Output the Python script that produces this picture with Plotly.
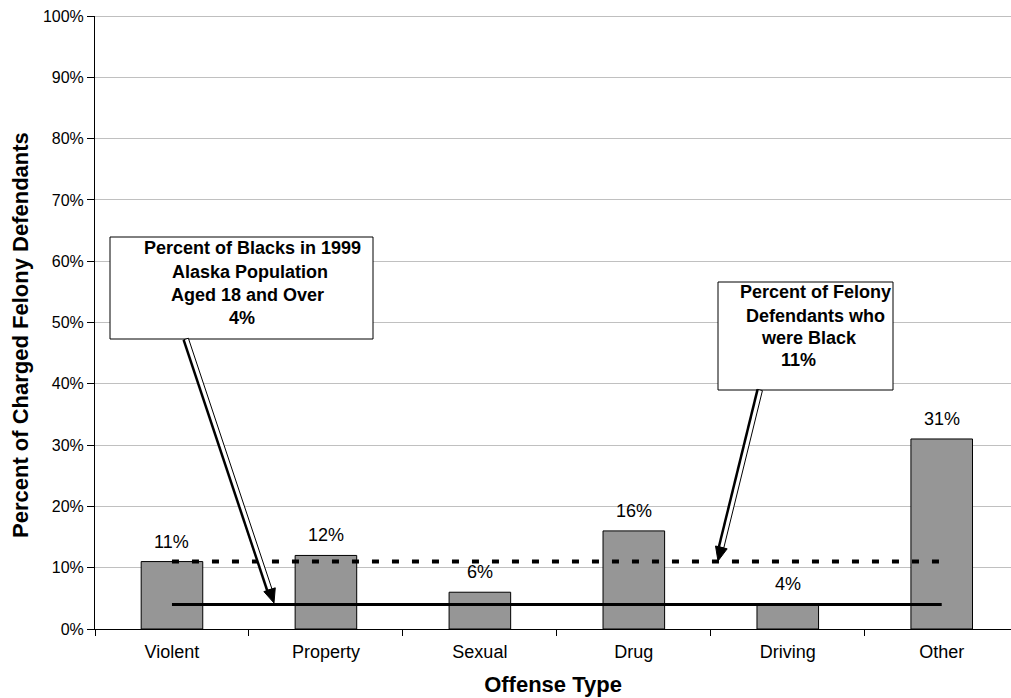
import math
import plotly.graph_objects as go

# Share of charged felony defendants who were Black, by offense type
categories = ["Violent", "Property", "Sexual", "Drug", "Driving", "Other"]
pct_black = [11, 12, 6, 16, 4, 31]

# Reference levels
adult_population_share = 4     # Blacks in 1999 Alaska population aged 18+
all_felony_share = 11          # Black share of all felony defendants

y_ticks = list(range(0, 101, 10))

W, H = 1011, 698
M_L, M_R, M_T, M_B = 95, 0, 16, 69
PW, PH = W - M_L - M_R, H - M_T - M_B
FONT = "Liberation Sans, Arial, sans-serif"


def px(xp):
    """Pixel column -> paper x."""
    return (xp - M_L) / PW


def py(yp):
    """Pixel row -> paper y."""
    return (H - M_B - yp) / PH


fig = go.Figure()

fig.add_trace(go.Bar(
    x=categories, y=pct_black, width=0.4,
    marker=dict(color="#969696", line=dict(color="#000000", width=1)),
    hoverinfo="skip", showlegend=False,
))

# Reference lines across the categories
fig.add_trace(go.Scatter(
    x=categories, y=[adult_population_share] * len(categories), mode="lines",
    line=dict(color="#000000", width=3), hoverinfo="skip", showlegend=False,
))
fig.add_trace(go.Scatter(
    x=categories, y=[all_felony_share] * len(categories), mode="lines",
    line=dict(color="#000000", width=4, dash="7px,13px"),
    hoverinfo="skip", showlegend=False,
))

annotations = []
for c, v in zip(categories, pct_black):
    annotations.append(dict(
        x=c, y=v, xref="x", yref="y", text=f"{v}%", showarrow=False,
        yanchor="bottom", yshift=8, font=dict(family=FONT, size=18, color="#000"),
    ))

# Y-axis title
annotations.append(dict(
    x=px(20), y=py(335), xref="paper", yref="paper",
    text="<b>Percent of Charged Felony Defendants</b>", textangle=-90,
    showarrow=False, xanchor="center", yanchor="middle",
    font=dict(family=FONT, size=22, color="#000"),
))

shapes = []
# Darker top border line at 100%
shapes.append(dict(type="line", xref="paper", yref="y", x0=0, x1=1, y0=100, y1=100,
                   line=dict(color="#808080", width=1), layer="below"))


def callout_box(x0, y0, x1, y1):
    shapes.append(dict(type="rect", xref="paper", yref="paper",
                       x0=px(x0), x1=px(x1), y0=py(y1), y1=py(y0),
                       fillcolor="#ffffff", line=dict(color="#000000", width=1),
                       layer="above"))


def callout_text(lines):
    for text, xc, yc in lines:
        annotations.append(dict(
            x=px(xc), y=py(yc), xref="paper", yref="paper", text=f"<b>{text}</b>",
            showarrow=False, xanchor="center", yanchor="middle",
            font=dict(family=FONT, size=18, color="#000"),
        ))


def hollow_arrow(tail, tip, hw=2.5, hl=14, hhw=6):
    tx, ty = tail
    hx, hy = tip
    dx, dy = hx - tx, hy - ty
    L = math.hypot(dx, dy)
    ux, uy = dx / L, dy / L
    nx, ny = -uy, ux
    if nx > 0:  # make n point toward the image-left side
        nx, ny = -nx, -ny
    neck = (hx - ux * hl, hy - uy * hl)

    def p(x, y):
        return f"{px(x):.5f},{py(y):.5f}"

    body = [
        (tx + nx * hw, ty + ny * hw),
        (neck[0] + nx * hw, neck[1] + ny * hw),
        (neck[0] - nx * hw, neck[1] - ny * hw),
        (tx - nx * hw, ty - ny * hw),
    ]
    path = "M " + " L ".join(p(*q) for q in body) + " Z"
    shapes.append(dict(type="path", xref="paper", yref="paper", path=path,
                       fillcolor="#ffffff", line=dict(color="#000000", width=1),
                       layer="above"))
    # heavier left edge
    shapes.append(dict(type="line", xref="paper", yref="paper",
                       x0=px(body[0][0]), y0=py(body[0][1]),
                       x1=px(body[1][0]), y1=py(body[1][1]),
                       line=dict(color="#000000", width=2.5), layer="above"))
    head = [
        (neck[0] + nx * hhw, neck[1] + ny * hhw),
        (hx, hy),
        (neck[0] - nx * hhw, neck[1] - ny * hhw),
    ]
    hpath = "M " + " L ".join(p(*q) for q in head) + " Z"
    shapes.append(dict(type="path", xref="paper", yref="paper", path=hpath,
                       fillcolor="#000000", line=dict(color="#000000", width=1),
                       layer="above"))


callout_box(110, 237, 373, 339)
callout_text([
    ("Percent of Blacks in 1999", 252, 248),
    ("Alaska Population", 250, 272),
    ("Aged 18 and Over", 247, 295),
    (f"{adult_population_share}%", 242, 318),
])
hollow_arrow((186, 339), (274, 603))

callout_box(718, 282, 893, 390)
callout_text([
    ("Percent of Felony", 815, 292),
    ("Defendants who", 815, 316),
    ("were Black", 809, 338),
    (f"{all_felony_share}%", 798, 360),
])
hollow_arrow((760, 390), (718, 561))

fig.update_layout(
    width=W, height=H,
    margin=dict(l=M_L, r=M_R, t=M_T, b=M_B, pad=0),
    paper_bgcolor="#ffffff", plot_bgcolor="#ffffff",
    font=dict(family=FONT, color="#000000"),
    shapes=shapes, annotations=annotations,
    bargap=0.6,
)

fig.update_xaxes(
    type="category", range=[-0.5, 5.45], tickson="boundaries",
    ticks="outside", ticklen=6, tickcolor="#000", tickwidth=1,
    showline=True, linecolor="#000", linewidth=1, showgrid=False,
    tickfont=dict(family=FONT, size=18, color="#000"),
    ticklabelstandoff=6,
    title=dict(text="<b>Offense Type</b>", font=dict(family=FONT, size=22, color="#000"),
               standoff=16),
)

fig.update_yaxes(
    range=[0, 100], tickvals=y_ticks, ticktext=[f"{t}%" for t in y_ticks],
    ticks="outside", ticklen=7, tickcolor="#000", tickwidth=1,
    showline=True, linecolor="#000", linewidth=1,
    showgrid=True, gridcolor="#c0c0c0", gridwidth=1, zeroline=False,
    tickfont=dict(family=FONT, size=16, color="#000"),
)

fig.write_html("out.html")
